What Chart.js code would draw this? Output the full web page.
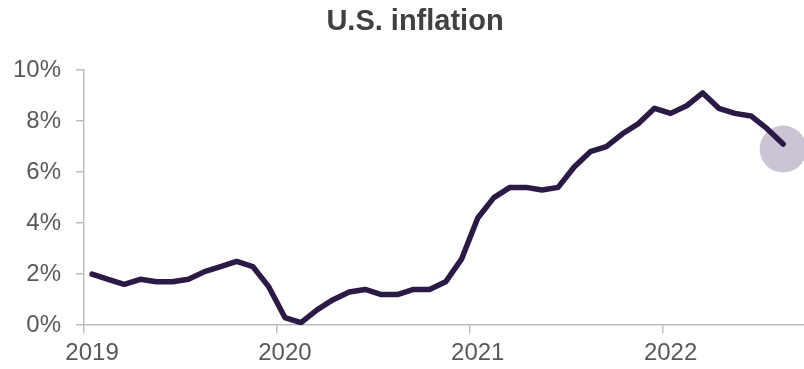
<!DOCTYPE html>
<html>
<head>
<meta charset="utf-8">
<title>U.S. inflation</title>
<script src="https://cdn.jsdelivr.net/npm/chart.js@4.4.1/dist/chart.umd.min.js"></script>
<style>
  html, body { margin: 0; padding: 0; background: #fff; }
  #wrap { position: relative; width: 804px; height: 369px; }
  #wrap canvas { position: absolute; left: 0; top: 0; }
  #title {
    position: absolute;
    top: 6px;
    left: 0;
    width: 804px;
    box-sizing: border-box;
    padding-left: 26px;
    text-align: center;
    font: bold 29px/29px "Liberation Sans", Arial, sans-serif;
    color: #404040;
  }
</style>
</head>
<body>
<div id="wrap">
  <canvas id="inflation-chart"></canvas>
  <div id="title">U.S. inflation</div>
</div>
<script>
// Monthly CPI, year over year change (%), Apr 2019 – Nov 2022
const MONTHS = [
  "Apr 2019", "May 2019", "Jun 2019", "Jul 2019", "Aug 2019", "Sep 2019", "Oct 2019", "Nov 2019", "Dec 2019",
  "Jan 2020", "Feb 2020", "Mar 2020", "Apr 2020", "May 2020", "Jun 2020", "Jul 2020", "Aug 2020", "Sep 2020", "Oct 2020", "Nov 2020", "Dec 2020",
  "Jan 2021", "Feb 2021", "Mar 2021", "Apr 2021", "May 2021", "Jun 2021", "Jul 2021", "Aug 2021", "Sep 2021", "Oct 2021", "Nov 2021", "Dec 2021",
  "Jan 2022", "Feb 2022", "Mar 2022", "Apr 2022", "May 2022", "Jun 2022", "Jul 2022", "Aug 2022", "Sep 2022", "Oct 2022", "Nov 2022",
];

const CPI_YOY = [
  2.0, 1.8, 1.6, 1.8, 1.7, 1.7, 1.8, 2.1, 2.3,
  2.5, 2.3, 1.5, 0.3, 0.1, 0.6, 1.0, 1.3, 1.4, 1.2, 1.2, 1.4,
  1.4, 1.7, 2.6, 4.2, 5.0, 5.4, 5.4, 5.3, 5.4, 6.2, 6.8, 7.0,
  7.5, 7.9, 8.5, 8.3, 8.6, 9.1, 8.5, 8.3, 8.2, 7.7, 7.1,
];

// one year label every 12 months, starting at the first month
const YEAR_LABELS = ["2019", "2020", "2021", "2022"];
const Y_TICKS = [0, 2, 4, 6, 8, 10];

// soft marker behind the latest reading
const HIGHLIGHT_MONTH = ["Nov 2022"];
const HIGHLIGHT_VALUE = [6.9];

const AXIS_GREY = "#bdbdbd";
const LABEL_GREY = "#595959";
const FONT = "'Liberation Sans', Arial, sans-serif";

const lineData = CPI_YOY.map((v, i) => ({ x: i, y: v }));
const haloData = HIGHLIGHT_MONTH.map((m, i) => ({ x: MONTHS.indexOf(m), y: HIGHLIGHT_VALUE[i] }));

new Chart(document.getElementById("inflation-chart"), {
  type: "line",
  data: {
    datasets: [
      {
        label: "CPI y/y",
        data: lineData,
        borderColor: "#2b1a45",
        borderWidth: 5.5,
        borderJoinStyle: "round",
        borderCapStyle: "round",
        tension: 0,
        pointRadius: 0,
        fill: false,
        order: 1,
      },
      {
        label: "Latest",
        data: haloData,
        showLine: false,
        pointRadius: 23.5,
        pointHoverRadius: 23.5,
        pointBackgroundColor: "#cac4d4",
        pointBorderWidth: 0,
        clip: false,
        order: 2,
      },
    ],
  },
  options: {
    responsive: true,
    maintainAspectRatio: false,
    animation: false,
    layout: {
      autoPadding: false,
      // tick padding is counted twice by the axis fit, so pull the edges back in
      padding: { left: -2, top: 70, right: 0, bottom: -5 },
    },
    plugins: {
      legend: { display: false },
      tooltip: {
        callbacks: {
          title: (items) => MONTHS[items[0].parsed.x],
          label: (item) => `${item.parsed.y.toFixed(1)}%`,
        },
      },
    },
    scales: {
      x: {
        type: "linear",
        min: -0.5,
        max: 44.3,
        afterBuildTicks: (scale) => {
          scale.ticks = YEAR_LABELS.map((_, i) => ({ value: i * 12 - 0.5 }));
        },
        ticks: {
          autoSkip: false,
          maxRotation: 0,
          padding: 6,
          labelOffset: 8,
          color: LABEL_GREY,
          font: { family: FONT, size: 24 },
          callback: (value, index) => YEAR_LABELS[index],
        },
        grid: {
          drawOnChartArea: false,
          drawTicks: true,
          tickLength: 8,
          color: AXIS_GREY,
          lineWidth: 1.5,
        },
        border: { display: true, color: AXIS_GREY, width: 1.5 },
      },
      y: {
        min: 0,
        max: 10,
        afterBuildTicks: (scale) => {
          scale.ticks = Y_TICKS.map((v) => ({ value: v }));
        },
        ticks: {
          padding: 15,
          color: LABEL_GREY,
          font: { family: FONT, size: 24 },
          callback: (value) => `${value}%`,
        },
        grid: {
          drawOnChartArea: false,
          drawTicks: true,
          tickLength: 8,
          color: AXIS_GREY,
          lineWidth: 1.5,
        },
        border: { display: true, color: AXIS_GREY, width: 1.5 },
      },
    },
  },
});
</script>
</body>
</html>
